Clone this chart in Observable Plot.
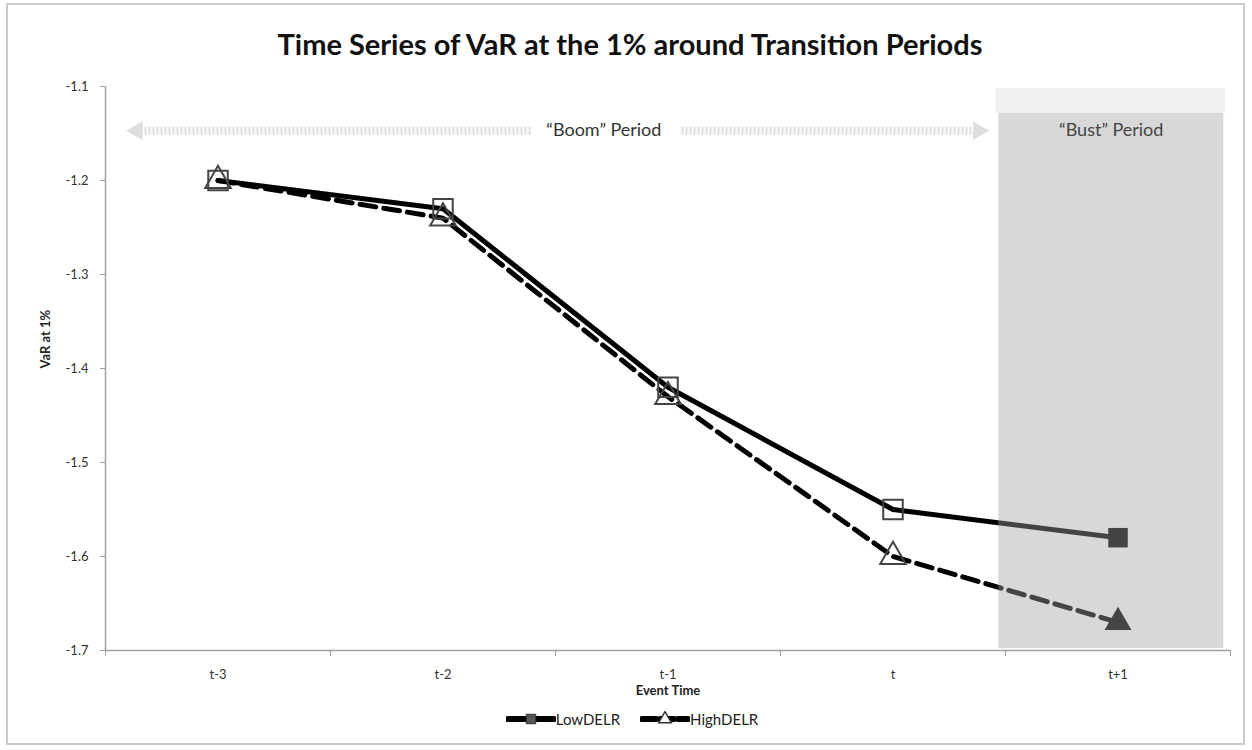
<!DOCTYPE html>
<html>
<head>
<meta charset="utf-8">
<script src="https://cdn.jsdelivr.net/npm/d3@7"></script>
<script src="https://cdn.jsdelivr.net/npm/@observablehq/plot@0.6"></script>
<style>
  html, body { margin: 0; padding: 0; background: #fff; }
  #wrap { position: relative; width: 1252px; height: 750px; overflow: hidden; font-family: Lato, "Open Sans", sans-serif; }
  #frame { position: absolute; left: 6px; top: 3px; width: 1239px; height: 742px; border: 2px solid #cbcbcb; box-sizing: border-box; }
  #title { position: absolute; left: 0; width: 1260px; top: 26px; text-align: center; font-weight: 700; font-size: 29px; color: #111; }
  #chart { position: absolute; left: 0; top: 70px; }
  #legend { position: absolute; left: 0; width: 1252px; top: 710px; display: flex; justify-content: center; align-items: center; font-size: 15px; color: #222; padding-left: 12px; box-sizing: border-box; }
  #legend .item { display: flex; align-items: center; margin: 0 10px; }
  #legend svg { display: block; }
</style>
</head>
<body>
<div id="wrap">
  <div id="frame"></div>
  <div id="title">Time Series of VaR at the 1% around Transition Periods</div>
  <div id="chart"></div>
  <div id="legend"></div>
</div>
<script>
// ---- data ----
const categories = ["t-3", "t-2", "t-1", "t", "t+1"];
const lowDELR = [-1.20, -1.23, -1.42, -1.55, -1.58];
const highDELR = [-1.20, -1.24, -1.43, -1.60, -1.67];
const seriesNames = ["LowDELR", "HighDELR"];
const yTicks = [-1.7, -1.6, -1.5, -1.4, -1.3, -1.2, -1.1];
const boomLabel = "\u201cBoom\u201d Period";
const bustLabel = "\u201cBust\u201d Period";
const xLabel = "Event Time";
const yLabel = "VaR at 1%";

// annotation extents (in data units of the chart)
const bustBand = {x1: 3.47, x2: 4.47, yTop: -1.102, yMid: -1.1287, yBottom: -1.698};
const boomArrow = {y: -1.147, left: -0.38, leftTip: -0.4, textL: 1.39, textC: 1.715, textR: 2.06, right: 3.40, rightTip: 3.42};

const idx = categories.map((_, i) => i);
const low = idx.map(i => ({i, v: lowDELR[i], bust: i === 4}));
const high = idx.map(i => ({i, v: highDELR[i], bust: i === 4}));
const boundaries = d3.range(-0.5, categories.length, 1);

const chart = Plot.plot({
  width: 1252,
  height: 640,
  marginLeft: 105,
  marginRight: 22,
  marginTop: 16,
  marginBottom: 60,
  style: {fontFamily: "Lato, 'Open Sans', sans-serif", fontSize: "13px", color: "#333", background: "transparent", overflow: "visible"},
  x: {domain: [-0.5, 4.5]},
  y: {domain: [-1.7, -1.1]},
  marks: [
    // light top band of bust region
    Plot.rect([bustBand], {x1: "x1", x2: "x2", y1: "yMid", y2: "yTop", fill: "#f1f1f1", insetLeft: -3, insetRight: -2}),
    // boom arrow (dotted line)
    Plot.link([{a: boomArrow.left, b: boomArrow.textL}, {a: boomArrow.textR, b: boomArrow.right}], {
      x1: "a", x2: "b", y1: () => boomArrow.y, y2: () => boomArrow.y,
      stroke: "#dedede", strokeWidth: 8, strokeDasharray: "2,2"
    }),
    Plot.dot([{x: boomArrow.leftTip, r: -90}, {x: boomArrow.rightTip, r: 90}], {
      x: d => d.x + (d.r < 0 ? 0.04 : -0.04), y: () => boomArrow.y, symbol: "triangle", r: 7,
      rotate: "r", fill: "#dedede", stroke: "none"
    }),
    Plot.text([boomLabel], {x: boomArrow.textC, y: boomArrow.y, fontSize: 18, fill: "#333"}),
    // series lines
    Plot.line(high, {x: "i", y: "v", stroke: "#000", strokeWidth: 5, strokeDasharray: "16,8", strokeLinejoin: "round"}),
    Plot.line(low, {x: "i", y: "v", stroke: "#000", strokeWidth: 5, strokeLinejoin: "round"}),
    // hollow markers (boom)
    Plot.dot(low.filter(d => !d.bust), {x: "i", y: "v", symbol: "square", r: 11, stroke: "#444", strokeWidth: 2, fill: "none"}),
    Plot.dot(high.filter(d => !d.bust), {x: "i", y: "v", symbol: "triangle", r: 9.5, stroke: "#444", strokeWidth: 2, fill: "none"}),
    // filled markers (bust)
    Plot.dot(low.filter(d => d.bust), {x: "i", y: "v", symbol: "square", r: 11, fill: "#000", stroke: "none"}),
    Plot.dot(high.filter(d => d.bust), {x: "i", y: "v", symbol: "triangle", r: 10, fill: "#000", stroke: "none"}),
    // bust shading overlay
    Plot.rect([bustBand], {x1: "x1", x2: "x2", y1: "yBottom", y2: "yMid", fill: "rgb(163,163,163)", fillOpacity: 0.42}),
    Plot.text([bustLabel], {x: (bustBand.x1 + bustBand.x2) / 2, y: boomArrow.y + 0.0, fontSize: 18, fill: "#444"}),
    // axes
    Plot.ruleX([-0.5], {stroke: "#a0a0a0", strokeWidth: 1.5}),
    Plot.ruleY([-1.7], {stroke: "#a0a0a0", strokeWidth: 1.5}),
    Plot.axisY({ticks: yTicks, tickSize: 5, tickPadding: 12, tickFormat: d => d.toFixed(1), stroke: "#a0a0a0", fill: "#333", fontSize: 13}),
    Plot.axisX({ticks: boundaries, tickSize: 6, tickFormat: () => "", stroke: "#a0a0a0"}),
    Plot.axisX({ticks: idx, tickSize: 0, tickPadding: 19, tickFormat: i => categories[i], fill: "#333", fontSize: 13}),
    Plot.text([xLabel], {frameAnchor: "bottom", dy: 44, fontWeight: "bold", fontSize: 13, fill: "#222"}),
    Plot.text([yLabel], {frameAnchor: "left", dx: -60, rotate: -90, fontWeight: "bold", fontSize: 13, fill: "#222"})
  ]
});
document.getElementById("chart").appendChild(chart);

// legend
const legend = document.getElementById("legend");
seriesNames.forEach((name, k) => {
  const item = document.createElement("div");
  item.className = "item";
  const ns = "http://www.w3.org/2000/svg";
  const s = document.createElementNS(ns, "svg");
  s.setAttribute("width", 50); s.setAttribute("height", 16);
  const ln = document.createElementNS(ns, "line");
  ln.setAttribute("x1", 2); ln.setAttribute("x2", 48); ln.setAttribute("y1", 8); ln.setAttribute("y2", 8);
  ln.setAttribute("stroke", "#000"); ln.setAttribute("stroke-width", 6); ln.setAttribute("stroke-linecap", "round");
  if (k === 1) ln.setAttribute("stroke-dasharray", "14,4");
  s.appendChild(ln);
  const m = document.createElementNS(ns, "path");
  if (k === 0) {
    m.setAttribute("d", d3.symbol(d3.symbolSquare, 90)());
    m.setAttribute("fill", "#555"); m.setAttribute("stroke", "#333"); m.setAttribute("stroke-width", 1);
  } else {
    m.setAttribute("d", d3.symbol(d3.symbolTriangle, 70)());
    m.setAttribute("fill", "#fff"); m.setAttribute("stroke", "#333"); m.setAttribute("stroke-width", 1.5);
  }
  m.setAttribute("transform", "translate(25,8)");
  s.appendChild(m);
  item.appendChild(s);
  const t = document.createElement("span");
  t.textContent = name;
  item.appendChild(t);
  legend.appendChild(item);
});
</script>
</body>
</html>
